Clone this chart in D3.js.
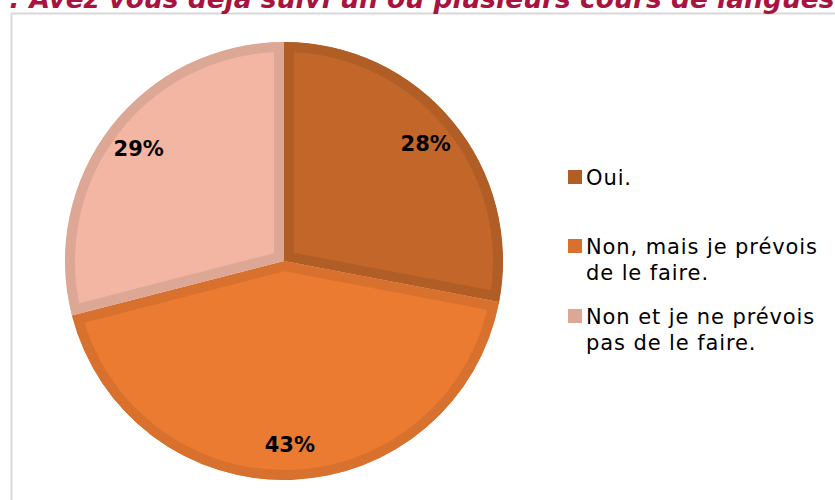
<!DOCTYPE html>
<html lang="fr">
<head>
  <meta charset="UTF-8">
  <title>Cours de langues</title>
  <script src="https://d3js.org/d3.v7.min.js"></script>
  <style>
    body { margin: 0; background: #fff; }
    svg { display: block; font-family: "DejaVu Sans", sans-serif; }
  </style>
</head>
<body>
  <div id="chart"></div>
  <script>
    const width = 835, height = 500;

    // data
    const categories = ["Oui.", "Non, mais je prévois de le faire.", "Non et je ne prévois pas de le faire."];
    const values = [28, 43, 29];
    const legendLines = [["Oui."], ["Non, mais je prévois", "de le faire."], ["Non et je ne prévois", "pas de le faire."]];
    const fills = ["#c3662a", "#eb7b30", "#f3b6a2"];
    const borders = ["#b05e26", "#d8702e", "#dda795"];

    const svg = d3.select("#chart").append("svg")
      .attr("width", width)
      .attr("height", height);

    // chart frame
    svg.append("rect")
      .attr("x", 11.5).attr("y", 13.5)
      .attr("width", 900).attr("height", 600)
      .attr("fill", "none")
      .attr("stroke", "#d9d9d9")
      .attr("stroke-width", 2);

    // title (cut at top in the original)
    svg.append("text")
      .attr("x", -15).attr("y", 8)
      .attr("font-size", 26.5)
      .attr("font-weight", "bold")
      .attr("font-style", "italic")
      .attr("fill", "#a8143f")
      .text("? : Avez vous déjà suivi un ou plusieurs cours de langues ?");

    const cx = 284, cy = 261, r = 219;
    const pie = d3.pie().sort(null).value(d => d);
    const arcs = pie(values);
    const arc = d3.arc().innerRadius(0).outerRadius(r);

    const g = svg.append("g").attr("transform", `translate(${cx},${cy})`);
    const defs = svg.append("defs");

    arcs.forEach((a, i) => {
      defs.append("clipPath").attr("id", "clip" + i)
        .append("path").attr("d", arc(a));
      g.append("path")
        .attr("d", arc(a))
        .attr("fill", fills[i])
        .attr("stroke", borders[i])
        .attr("stroke-width", 20)
        .attr("stroke-linejoin", "miter")
        .attr("clip-path", `url(#clip${i})`);
    });

    // percent labels
    const labelArc = d3.arc().innerRadius(r * 0.84).outerRadius(r * 0.84);
    g.selectAll("text.pct")
      .data(arcs)
      .join("text")
      .attr("class", "pct")
      .attr("transform", d => {
        const [x, y] = labelArc.centroid(d);
        return `translate(${x},${y})`;
      })
      .attr("text-anchor", "middle")
      .attr("dy", "0.36em")
      .attr("font-size", 21)
      .attr("font-weight", "bold")
      .attr("fill", "#000")
      .text(d => d.data + "%");

    // legend
    const legendY = [177, 246, 316];
    const legend = svg.append("g").attr("transform", "translate(568,0)");
    legendLines.forEach((lines, i) => {
      legend.append("rect")
        .attr("x", 0).attr("y", legendY[i] - 7)
        .attr("width", 14).attr("height", 14)
        .attr("fill", borders[i]);
      lines.forEach((t, j) => {
        legend.append("text")
          .attr("x", 18).attr("y", legendY[i] + j * 26.5)
          .attr("dy", "0.36em")
          .attr("font-size", 21)
          .attr("letter-spacing", 0.9)
          .attr("fill", "#000")
          .text(t);
      });
    });
  </script>
</body>
</html>
